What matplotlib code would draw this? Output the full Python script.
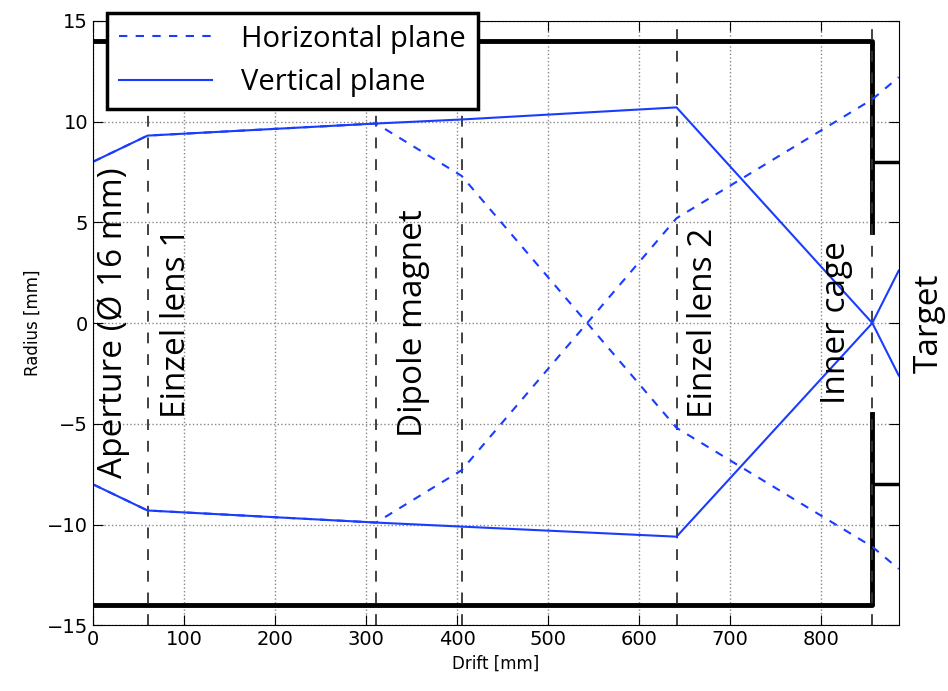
import matplotlib.pyplot as plt

# beam envelope (mm) along the drift (mm)
drift = [0, 60, 311, 405, 641, 856, 885]
vert_upper = [8.0, 9.3, 9.9, 10.1, 10.7, 0.0, -2.6]
vert_lower = [-8.0, -9.3, -9.9, -10.1, -10.6, 0.0, 2.6]
horiz_upper = [8.0, 9.3, 9.9, 7.3, -5.2, -11.1, -12.2]
horiz_lower = [-8.0, -9.3, -9.9, -7.3, 5.2, 11.1, 12.2]

elements = [60, 311, 405, 641, 856]
labels = ['Aperture (Ø 16 mm)', 'Einzel lens 1', 'Dipole magnet', 'Einzel lens 2', 'Inner cage', 'Target']
label_x = [23, 92, 352, 671, 817, 918]

wall = 14
cage_gap = 4.5
target_half = 8

fig = plt.figure(figsize=(9.48, 6.91), dpi=100)
ax = fig.add_axes([0.098, 0.095, 0.850, 0.875])

# chamber walls
ax.plot([0, 856, 856], [wall, wall, cage_gap], color='black', lw=3.5)
ax.plot([0, 856, 856], [-wall, -wall, -cage_gap], color='black', lw=3.5)
ax.plot([856, 885], [target_half, target_half], color='black', lw=2.5)
ax.plot([856, 885], [-target_half, -target_half], color='black', lw=2.5)

for xe in elements:
    ax.axvline(xe, color='#333333', ls=(0, (6, 6)), lw=1.3)

ax.plot(drift, horiz_upper, color='#1a3cff', ls=(0, (4, 4)), lw=1.5, label='Horizontal plane')
ax.plot(drift, vert_upper, color='#1a3cff', lw=1.5, label='Vertical plane')
ax.plot(drift, horiz_lower, color='#1a3cff', ls=(0, (4, 4)), lw=1.5)
ax.plot(drift, vert_lower, color='#1a3cff', lw=1.5)

for txt, xt in zip(labels, label_x):
    ax.text(xt, 0, txt, rotation=90, ha='center', va='center', fontsize=24,
            family='Open Sans', clip_on=False)

ax.set_xlim(0, 885)
ax.set_ylim(-15, 15)
ax.set_xticks(range(0, 801, 100))
ax.set_yticks(range(-15, 16, 5))
ax.grid(True, ls=':', color='#888888', lw=1)
ax.tick_params(direction='in', top=True, right=True, labelsize=14, length=7)
ax.set_xlabel('Drift [mm]', fontsize=12)
ax.set_ylabel('Radius [mm]', fontsize=12)

leg = ax.legend(loc='upper left', bbox_to_anchor=(0.0174, 1.013), borderaxespad=0,
                prop={'family': 'Open Sans', 'size': 21}, fancybox=False,
                framealpha=1, edgecolor='black', handlelength=3.2, borderpad=0.4,
                handletextpad=1.0)
leg.get_frame().set_linewidth(2.5)

plt.savefig('out.png')
